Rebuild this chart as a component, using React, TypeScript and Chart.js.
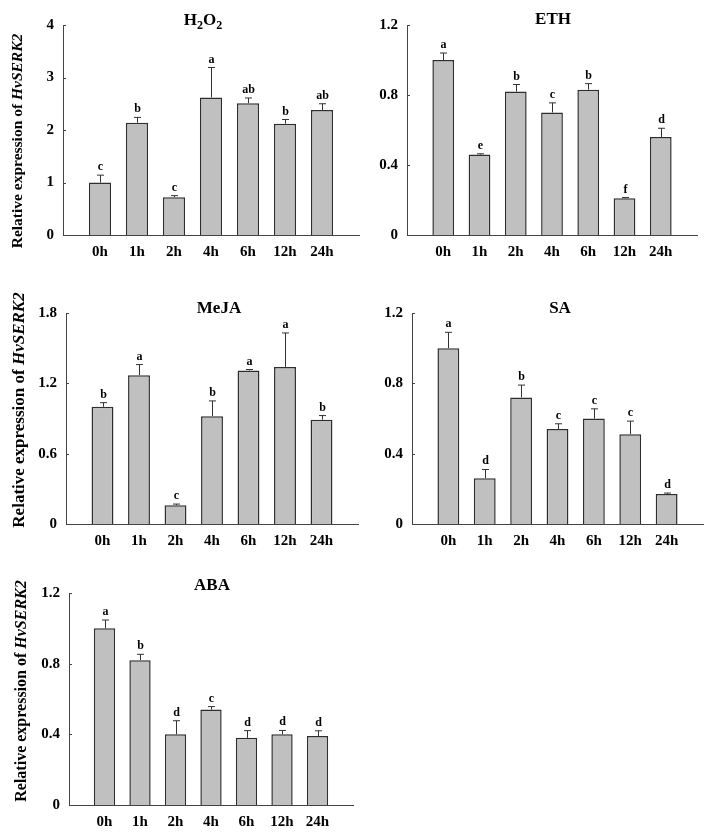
import React, { useEffect, useRef } from "react";
import { Chart, registerables } from "chart.js";

Chart.register(...registerables);

// ---------- data ----------
const categories = ["0h", "1h", "2h", "4h", "6h", "12h", "24h"];

const h2o2Values = [1.0, 2.14, 0.72, 2.62, 2.51, 2.12, 2.38];
const h2o2Errors = [0.14, 0.1, 0.03, 0.57, 0.1, 0.08, 0.12];
const h2o2Letters = ["c", "b", "c", "a", "ab", "b", "ab"];

const ethValues = [1.0, 0.46, 0.82, 0.7, 0.83, 0.21, 0.56];
const ethErrors = [0.04, 0.004, 0.04, 0.055, 0.035, 0.004, 0.05];
const ethLetters = ["a", "e", "b", "c", "b", "f", "d"];

const mejaValues = [1.0, 1.27, 0.16, 0.92, 1.31, 1.34, 0.89];
const mejaErrors = [0.035, 0.09, 0.01, 0.13, 0.008, 0.29, 0.035];
const mejaLetters = ["b", "a", "c", "b", "a", "a", "b"];

const saValues = [1.0, 0.26, 0.72, 0.54, 0.6, 0.51, 0.17];
const saErrors = [0.09, 0.05, 0.07, 0.03, 0.055, 0.075, 0.006];
const saLetters = ["a", "d", "b", "c", "c", "c", "d"];

const abaValues = [1.0, 0.82, 0.4, 0.54, 0.38, 0.4, 0.39];
const abaErrors = [0.047, 0.033, 0.077, 0.017, 0.041, 0.022, 0.03];
const abaLetters = ["a", "b", "d", "c", "d", "d", "d"];

const yAxisTitleMain = "Relative expression of ";
const yAxisTitleGene = "HvSERK2";

// ---------- layout / style ----------
const FONT = "'Liberation Serif', 'Times New Roman', Times, serif";

type TitlePart = { t: string; sub?: boolean };
type Rect = { left: number; top: number; width: number; height: number };
type Area = { left: number; top: number; right: number; bottom: number };

type PanelCfg = {
  key: string;
  title: TitlePart[];
  values: number[];
  errors: number[];
  letters: string[];
  yMax: number;
  yStep: number;
  box: Rect;
  area: Area;
  titlePos: { x: number; y: number };
  yTitle?: { x: number; y: number; size: number };
};

const panels: PanelCfg[] = [
  {
    key: "h2o2",
    title: [{ t: "H" }, { t: "2", sub: true }, { t: "O" }, { t: "2", sub: true }],
    values: h2o2Values,
    errors: h2o2Errors,
    letters: h2o2Letters,
    yMax: 4,
    yStep: 1,
    box: { left: 0, top: 0, width: 365, height: 268 },
    area: { left: 63, top: 25, right: 359, bottom: 235 },
    titlePos: { x: 203, y: 24.5 },
    yTitle: { x: 18, y: 141, size: 15.5 },
  },
  {
    key: "eth",
    title: [{ t: "ETH" }],
    values: ethValues,
    errors: ethErrors,
    letters: ethLetters,
    yMax: 1.2,
    yStep: 0.4,
    box: { left: 365, top: 0, width: 346, height: 268 },
    area: { left: 407, top: 25, right: 697, bottom: 235 },
    titlePos: { x: 553, y: 24 },
  },
  {
    key: "meja",
    title: [{ t: "MeJA" }],
    values: mejaValues,
    errors: mejaErrors,
    letters: mejaLetters,
    yMax: 1.8,
    yStep: 0.6,
    box: { left: 0, top: 280, width: 365, height: 278 },
    area: { left: 66, top: 313, right: 358, bottom: 524 },
    titlePos: { x: 219, y: 312.5 },
    yTitle: { x: 20, y: 410, size: 17 },
  },
  {
    key: "sa",
    title: [{ t: "SA" }],
    values: saValues,
    errors: saErrors,
    letters: saLetters,
    yMax: 1.2,
    yStep: 0.4,
    box: { left: 365, top: 280, width: 346, height: 278 },
    area: { left: 412, top: 313, right: 703, bottom: 524 },
    titlePos: { x: 560, y: 313 },
  },
  {
    key: "aba",
    title: [{ t: "ABA" }],
    values: abaValues,
    errors: abaErrors,
    letters: abaLetters,
    yMax: 1.2,
    yStep: 0.4,
    box: { left: 0, top: 562, width: 365, height: 277 },
    area: { left: 69, top: 593, right: 353, bottom: 805 },
    titlePos: { x: 212, y: 590 },
    yTitle: { x: 22, y: 691, size: 16 },
  },
];

function makeDecor(p: PanelCfg) {
  return {
    id: "decor_" + p.key,
    afterDatasetsDraw(chart: any) {
      const ctx = chart.ctx as CanvasRenderingContext2D;
      const meta = chart.getDatasetMeta(0);
      const yScale = chart.scales.y;
      const area = chart.chartArea;
      ctx.save();
      // inner tick marks on y axis
      ctx.strokeStyle = "#444";
      ctx.lineWidth = 1;
      yScale.ticks.forEach((t: any) => {
        const y = Math.round(yScale.getPixelForValue(t.value)) + 0.5;
        ctx.beginPath();
        ctx.moveTo(area.left, y);
        ctx.lineTo(area.left + 3, y);
        ctx.stroke();
      });
      // error bars + letters
      meta.data.forEach((el: any, i: number) => {
        const x = Math.round(el.x) + 0.5;
        const yBar = el.y;
        const yTop = yScale.getPixelForValue(p.values[i] + p.errors[i]);
        ctx.strokeStyle = "#333";
        ctx.lineWidth = 1;
        ctx.beginPath();
        ctx.moveTo(x, yBar);
        ctx.lineTo(x, yTop);
        ctx.moveTo(x - 3.5, yTop);
        ctx.lineTo(x + 3.5, yTop);
        ctx.stroke();
        ctx.fillStyle = "#000";
        ctx.font = `bold 12px ${FONT}`;
        ctx.textAlign = "center";
        ctx.textBaseline = "alphabetic";
        ctx.fillText(p.letters[i], x, yTop - 5);
      });
      ctx.restore();
    },
    afterDraw(chart: any) {
      const ctx = chart.ctx as CanvasRenderingContext2D;
      ctx.save();
      ctx.fillStyle = "#000";
      // panel title with optional subscripts
      const mainFont = `bold 17px ${FONT}`;
      const subFont = `bold 12px ${FONT}`;
      let total = 0;
      const widths = p.title.map((part) => {
        ctx.font = part.sub ? subFont : mainFont;
        const w = ctx.measureText(part.t).width;
        total += w;
        return w;
      });
      let x = p.titlePos.x - p.box.left - total / 2;
      const baseY = p.titlePos.y - p.box.top;
      ctx.textAlign = "left";
      ctx.textBaseline = "alphabetic";
      p.title.forEach((part, i) => {
        ctx.font = part.sub ? subFont : mainFont;
        ctx.fillText(part.t, x, baseY + (part.sub ? 4 : 0));
        x += widths[i];
      });
      // y-axis title (mixed regular / italic)
      if (p.yTitle) {
        const size = p.yTitle.size;
        const f1 = `bold ${size}px ${FONT}`;
        const f2 = `italic bold ${size}px ${FONT}`;
        ctx.font = f1;
        const w1 = ctx.measureText(yAxisTitleMain).width;
        ctx.font = f2;
        const w2 = ctx.measureText(yAxisTitleGene).width;
        ctx.translate(p.yTitle.x - p.box.left, p.yTitle.y - p.box.top);
        ctx.rotate(-Math.PI / 2);
        ctx.textBaseline = "middle";
        ctx.textAlign = "left";
        const start = -(w1 + w2) / 2;
        ctx.font = f1;
        ctx.fillText(yAxisTitleMain, start, 0);
        ctx.font = f2;
        ctx.fillText(yAxisTitleGene, start + w1, 0);
      }
      ctx.restore();
    },
  };
}

function PanelChart({ p }: { p: PanelCfg }) {
  const ref = useRef<HTMLCanvasElement | null>(null);
  useEffect(() => {
    if (!ref.current) return;
    const tickFont = { family: FONT, size: 15, weight: "bold" as const };
    const chart = new Chart(ref.current, {
      type: "bar",
      data: {
        datasets: [
          {
            data: p.values.map((v, i) => ({ x: i, y: v })) as any,
            backgroundColor: "#c0c0c0",
            borderColor: "#2e2e2e",
            borderWidth: 1.5,
            barPercentage: 0.6,
            categoryPercentage: 1,
          },
        ],
      },
      options: {
        animation: false,
        responsive: true,
        maintainAspectRatio: false,
        layout: {
          padding: {
            left: 0,
            top: p.area.top - p.box.top,
            right: p.box.left + p.box.width - p.area.right,
            bottom: 0,
          },
        },
        plugins: {
          legend: { display: false },
          tooltip: { enabled: false },
          title: { display: false },
        },
        scales: {
          x: {
            type: "linear",
            offset: false,
            min: -1,
            max: categories.length,
            afterBuildTicks: (s: any) => {
              s.ticks = categories.map((_, i) => ({ value: i }));
            },
            afterFit: (s: any) => {
              s.height = p.box.top + p.box.height - p.area.bottom;
            },
            ticks: {
              callback: (v: any) => categories[v as number] ?? "",
              font: tickFont,
              color: "#000",
              padding: 8,
              autoSkip: false,
              maxRotation: 0,
            },
            grid: { display: false, drawTicks: false, offset: false },
            border: { display: true, color: "#444", width: 1 },
          },
          y: {
            min: 0,
            max: p.yMax,
            afterFit: (s: any) => {
              s.width = p.area.left - p.box.left;
            },
            ticks: {
              stepSize: p.yStep,
              font: tickFont,
              color: "#000",
              padding: 9,
            },
            grid: { display: false, drawTicks: false },
            border: { display: true, color: "#444", width: 1 },
          },
        },
      },
      plugins: [makeDecor(p)],
    });
    return () => chart.destroy();
  }, [p]);
  return (
    <div
      style={{
        position: "absolute",
        left: p.box.left,
        top: p.box.top,
        width: p.box.width,
        height: p.box.height,
      }}
    >
      <canvas ref={ref} />
    </div>
  );
}

export default function App() {
  return (
    <div
      style={{
        position: "absolute",
        left: 0,
        top: 0,
        width: 711,
        height: 839,
        background: "#fff",
      }}
    >
      {panels.map((p) => (
        <PanelChart key={p.key} p={p} />
      ))}
    </div>
  );
}
